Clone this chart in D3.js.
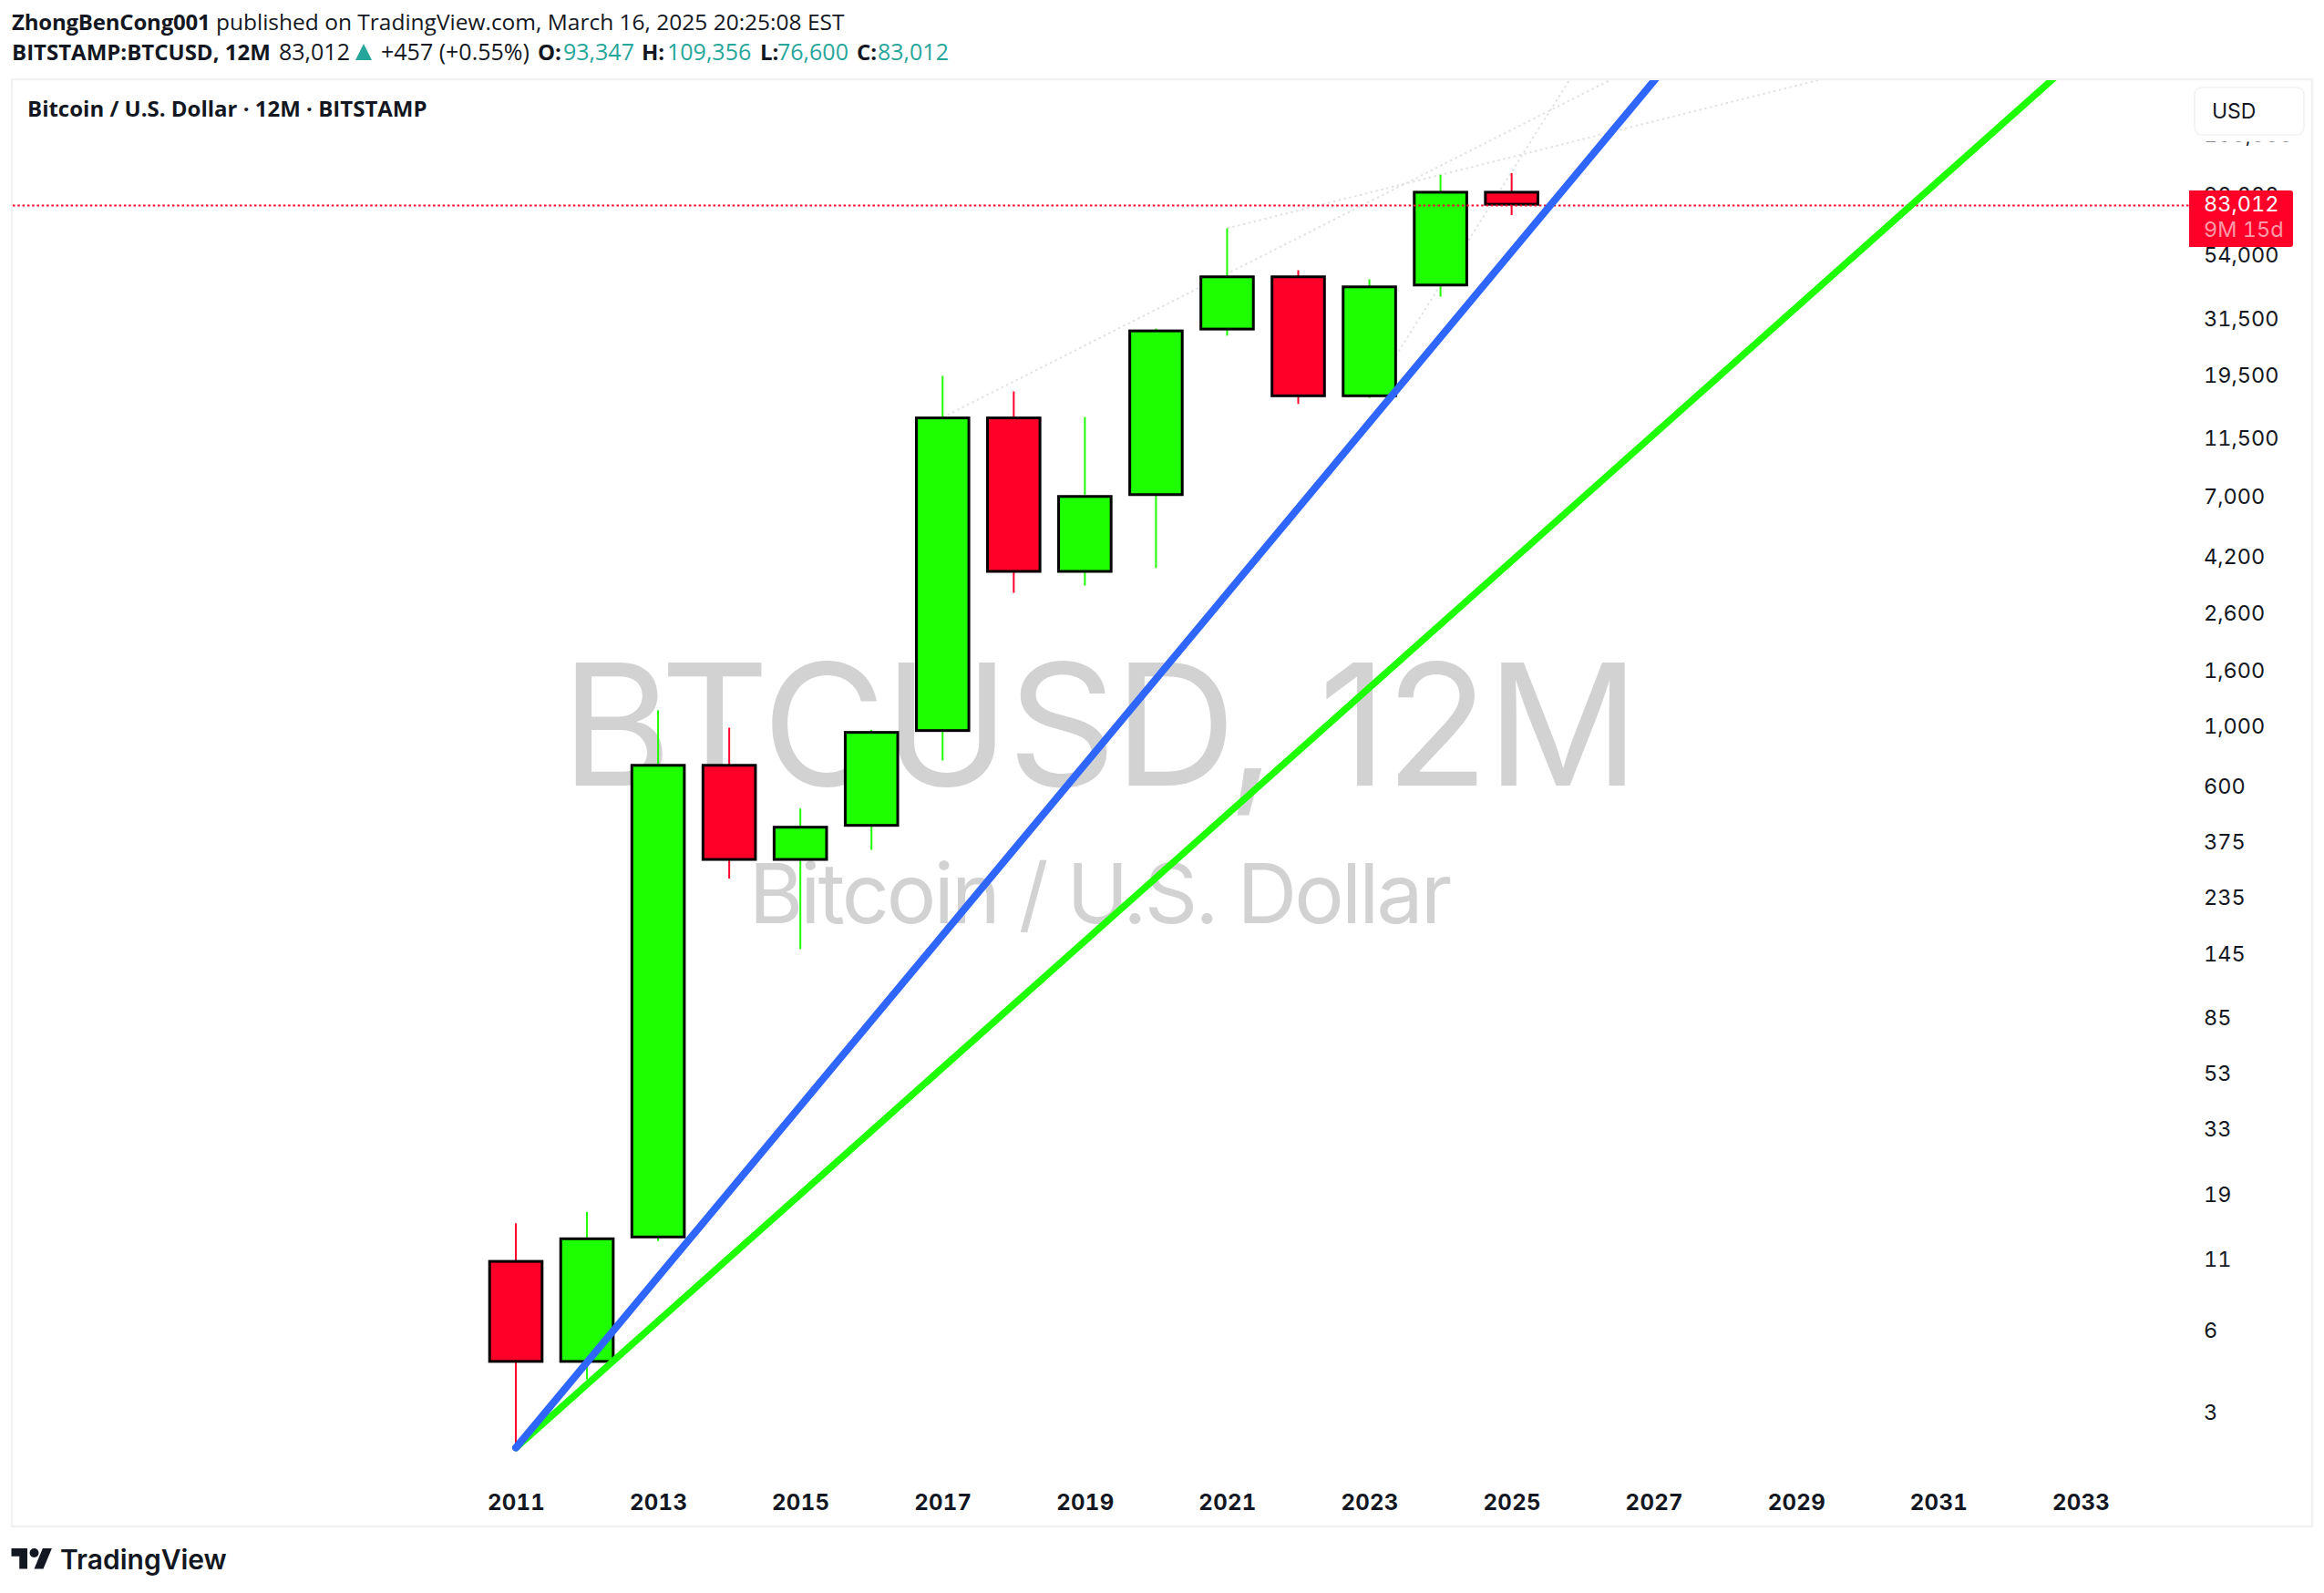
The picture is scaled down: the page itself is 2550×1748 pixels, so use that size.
<!DOCTYPE html>
<html>
<head>
<meta charset="utf-8">
<script src="https://cdn.jsdelivr.net/npm/d3@7"></script>
<style>
  body { margin: 0; background: #fff; }
  svg { display: block; font-family: Inter, sans-serif; }
  .head { font-family: "Open Sans", sans-serif; font-size: 25px; fill: #131722; }
  .head .b, .b { font-weight: 700; font-size: 24px; }
  .teal { fill: #26a69a; }
  .y-axis text { font-size: 23.5px; fill: #131722; font-variant-numeric: tabular-nums; }
  .x-axis text { font-size: 24px; font-weight: 700; fill: #131722; font-variant-numeric: tabular-nums; letter-spacing: 0.3px; }
  .tab { font-variant-numeric: tabular-nums; }
</style>
</head>
<body>
<svg width="2550" height="1748"></svg>
<script>
// yearly candles
var years  = [2011, 2012, 2013, 2014, 2015, 2016, 2017, 2018, 2019, 2020, 2021, 2022, 2023, 2024, 2025];
var opens  = [10.9, 4.6, 13.2, 728, 323, 431, 962, 13800, 3704, 7097, 28840, 45600, 16390, 41880, 93347];
var highs  = [15, 16.5, 1158, 997, 503, 979, 19616, 17207, 13860, 29300, 68500, 48030, 44470, 107770, 109356];
var lows   = [2.24, 4.0, 12.9, 278, 153, 354, 755, 3126, 3324, 3858, 27600, 15480, 16300, 38390, 76600];
var closes = [4.6, 13.2, 728, 323, 431, 962, 13800, 3704, 7097, 28840, 45600, 16390, 41880, 93347, 83012];

// trend lines: [year, price] at each end
var blueLine  = [[2011, 2.24], [2028, 492000]];
var greenLine = [[2011, 2.24], [2033, 299000]];
var dottedLines = [
  [[2017, 13800], [2027, 290000]],
  [[2021, 68500], [2031, 310000]],
  [[2023, 16300], [2027, 750000]]
];

var yTicks = [150000, 90000, 54000, 31500, 19500, 11500, 7000, 4200, 2600, 1600, 1000, 600, 375, 235, 145, 85, 53, 33, 19, 11, 6, 3];
var xTicks = [2011, 2013, 2015, 2017, 2019, 2021, 2023, 2025, 2027, 2029, 2031, 2033];
var lastPrice = 83012;

var green = "#1eff00", red = "#ff0028", blue = "#2e66ff", teal = "#26a69a", gray = "#d2d2d2";
var bodyWidth = 60.6, bodyStroke = 3;

var svg = d3.select("svg");

var x = d3.scaleLinear().domain([2011, 2033]).range([566, 2283]);
var y = d3.scaleLog().domain([1, 100000]).range([1693.1, 201.5]);

var data = years.map(function(d, i) {
  return {year: d, open: opens[i], high: highs[i], low: lows[i], close: closes[i]};
});

// chart frame
svg.append("rect")
    .attr("x", 13).attr("y", 87)
    .attr("width", 2524).attr("height", 1588)
    .attr("fill", "#fff")
    .attr("stroke", "#f1f1f1")
    .attr("stroke-width", 2.5);

svg.append("clipPath")
    .attr("id", "pane")
  .append("rect")
    .attr("x", 14).attr("y", 88)
    .attr("width", 2388).attr("height", 1586);

// watermark
svg.append("text")
    .attr("x", 1206).attr("y", 862)
    .attr("text-anchor", "middle")
    .attr("font-size", 186)
    .attr("letter-spacing", -2.5)
    .attr("fill", gray)
    .text("BTCUSD, 12M");
svg.append("text")
    .attr("x", 1206).attr("y", 1013)
    .attr("text-anchor", "middle")
    .attr("font-size", 91)
    .attr("letter-spacing", -2.8)
    .attr("fill", gray)
    .text("Bitcoin / U.S. Dollar");

var line = d3.line()
    .x(function(d) { return x(d[0]); })
    .y(function(d) { return y(d[1]); });

var pane = svg.append("g").attr("clip-path", "url(#pane)");

// faint dotted trend lines go behind the candles
pane.selectAll(".dotted")
    .data(dottedLines)
  .enter().append("path")
    .attr("class", "dotted")
    .attr("d", line)
    .attr("fill", "none")
    .attr("stroke", "#e2e2e2")
    .attr("stroke-width", 2)
    .attr("stroke-dasharray", "2.5 3.5");

var candle = pane.selectAll(".candle")
    .data(data)
  .enter().append("g")
    .attr("class", "candle");

function candleColor(d) { return d.close >= d.open ? green : red; }

candle.append("line")
    .attr("x1", function(d) { return x(d.year); })
    .attr("x2", function(d) { return x(d.year); })
    .attr("y1", function(d) { return y(d.high); })
    .attr("y2", function(d) { return y(d.low); })
    .attr("stroke", candleColor)
    .attr("stroke-width", 2);

// border sits inside the body, so neighbouring candles share the same edge row
candle.append("rect")
    .attr("x", function(d) { return x(d.year) - bodyWidth / 2 + bodyStroke / 2; })
    .attr("width", bodyWidth - bodyStroke)
    .attr("y", function(d) { return y(Math.max(d.open, d.close)) + bodyStroke / 2 - 1; })
    .attr("height", function(d) { return y(Math.min(d.open, d.close)) - y(Math.max(d.open, d.close)) - bodyStroke + 1; })
    .attr("fill", candleColor)
    .attr("stroke", "#000")
    .attr("stroke-width", bodyStroke);

// last price line
pane.append("line")
    .attr("x1", 14).attr("x2", 2402)
    .attr("y1", y(lastPrice)).attr("y2", y(lastPrice))
    .attr("stroke", red)
    .attr("stroke-width", 2)
    .attr("stroke-dasharray", "2.5 2.8");

pane.append("path")
    .datum(greenLine)
    .attr("d", line)
    .attr("fill", "none")
    .attr("stroke", green)
    .attr("stroke-width", 7.5)
    .attr("stroke-linecap", "round");

pane.append("path")
    .datum(blueLine)
    .attr("d", line)
    .attr("fill", "none")
    .attr("stroke", blue)
    .attr("stroke-width", 8)
    .attr("stroke-linecap", "round");

// axes
svg.append("g")
    .attr("class", "x-axis")
    .attr("transform", "translate(0,1639.5)")
    .call(d3.axisBottom(x).tickValues(xTicks).tickFormat(d3.format("d")).tickSize(0).tickPadding(0))
    .call(function(g) { g.select(".domain").remove(); })
    .call(function(g) { g.selectAll("text").attr("y", 0).attr("dy", "0.72em").attr("font-family", "Inter"); });

svg.append("g")
    .attr("class", "y-axis")
    .attr("transform", "translate(2418,0)")
    .call(d3.axisRight(y).tickValues(yTicks).tickFormat(d3.format(",")).tickSize(0).tickPadding(0))
    .call(function(g) { g.select(".domain").remove(); })
    .call(function(g) { g.selectAll("text").attr("dy", "0.28em").attr("font-family", "Inter"); });

// currency button, hides most of the top tick
svg.append("rect")
    .attr("x", 2404).attr("y", 90)
    .attr("width", 128).attr("height", 65.5)
    .attr("fill", "#fff");
svg.append("rect")
    .attr("x", 2408).attr("y", 96)
    .attr("width", 120).attr("height", 52)
    .attr("rx", 8)
    .attr("fill", "#fff")
    .attr("stroke", "#f1f1f1")
    .attr("stroke-width", 1.5);
svg.append("text")
    .attr("x", 2427).attr("y", 130)
    .attr("font-size", 23)
    .attr("fill", "#131722")
    .text("USD");

// last price label
svg.append("path")
    .attr("d", "M2402,209H2513a3,3 0 0 1 3,3V268a3,3 0 0 1 -3,3H2402Z")
    .attr("fill", red);
svg.append("text")
    .attr("class", "tab")
    .attr("x", 2418).attr("y", 232)
    .attr("font-size", 23.5)
    .attr("fill", "#fff")
    .text(d3.format(",")(lastPrice));
svg.append("text")
    .attr("class", "tab")
    .attr("x", 2418).attr("y", 260)
    .attr("font-size", 23.5)
    .attr("fill", "#ff99a9")
    .text("9M 15d");

// header lines
var head = svg.append("g").attr("class", "head");

var line1 = head.append("text").attr("x", 13).attr("y", 33);
line1.append("tspan").attr("class", "b").attr("letter-spacing", -0.2).text("ZhongBenCong001");
line1.append("tspan").style("font-size", "24.5px").text(" published on TradingView.com, March 16, 2025 20:25:08 EST");

var legendParts = [
  {t: "BITSTAMP:BTCUSD, 12M", x: 13, c: "b"},
  {t: "83,012", x: 306, c: ""},
  {t: "+457 (+0.55%)", x: 418, c: ""},
  {t: "O:", x: 590, c: "b"},
  {t: "93,347", x: 618, c: "teal"},
  {t: "H:", x: 704, c: "b"},
  {t: "109,356", x: 732, c: "teal"},
  {t: "L:", x: 834, c: "b"},
  {t: "76,600", x: 853, c: "teal"},
  {t: "C:", x: 940, c: "b"},
  {t: "83,012", x: 963, c: "teal"}
];
head.selectAll(".part")
    .data(legendParts)
  .enter().append("text")
    .attr("x", function(d) { return d.x; })
    .attr("y", 66)
    .attr("class", function(d) { return d.c; })
    .text(function(d) { return d.t; });

head.append("path")
    .attr("d", "M399,48L408,66H390Z")
    .attr("fill", teal);

svg.append("text")
    .attr("x", 30).attr("y", 128)
    .attr("class", "head b")
    .attr("fill", "#000")
    .text("Bitcoin / U.S. Dollar · 12M · BITSTAMP");

// logo
svg.append("g")
    .attr("transform", "translate(12.5,1694) scale(1.25)")
    .call(function(g) {
      g.append("path")
          .attr("d", "M14 22H7V11H0V4h14v18zM28 22h-8l7.5-18h8L28 22z")
          .attr("fill", "#131722");
      g.append("circle")
          .attr("cx", 20).attr("cy", 8).attr("r", 4)
          .attr("fill", "#131722");
    });
svg.append("text")
    .attr("x", 66).attr("y", 1722)
    .attr("font-size", 30)
    .attr("font-weight", 600)
    .attr("fill", "#131722")
    .text("TradingView");
</script>
</body>
</html>
